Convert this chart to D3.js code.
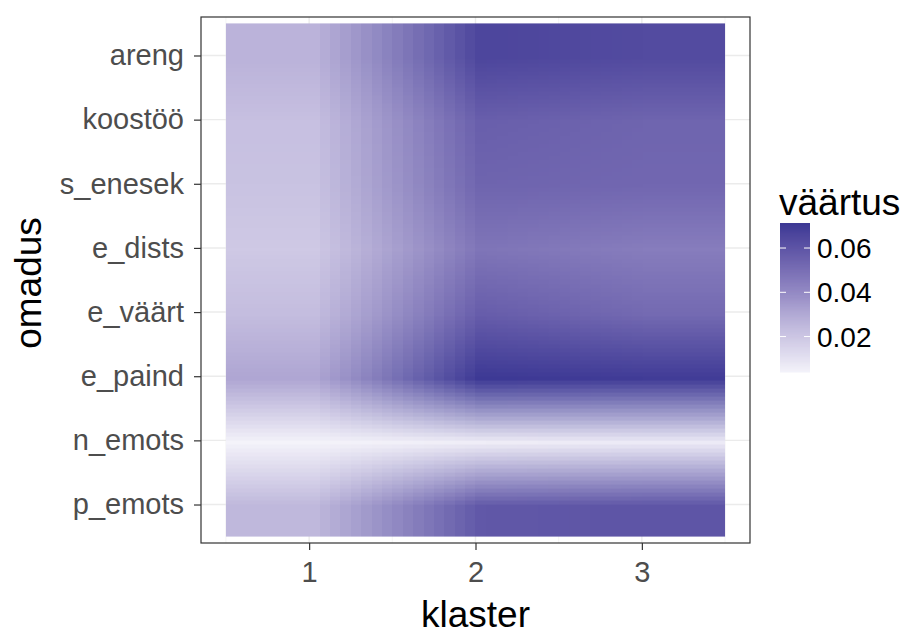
<!DOCTYPE html>
<html>
<head>
<meta charset="utf-8">
<script src="https://cdn.jsdelivr.net/npm/d3@7"></script>
<style>
  body { margin: 0; background: #fff; }
  text { font-family: "Liberation Sans", Arial, sans-serif; }
</style>
</head>
<body>
<div id="chart"></div>
<script>
// klastrid ja omadused (alt üles, nagu ggplot teljel)
const klaster = [1, 2, 3];
const omadus = ["p_emots", "n_emots", "e_paind", "e_väärt", "e_dists", "s_enesek", "koostöö", "areng"];

// väärtused iga klastri kohta, omaduste järjekorras
const vaartus1 = [0.024, 0.004, 0.030, 0.022, 0.018, 0.020, 0.021, 0.0255];
const vaartus2 = [0.059, 0.006, 0.0713, 0.057, 0.048, 0.054, 0.056, 0.066];
const vaartus3 = [0.060, 0.007, 0.070, 0.052, 0.045, 0.053, 0.054, 0.064];
const legendTicks = [0.02, 0.04, 0.06];

const vaartused = [vaartus1, vaartus2, vaartus3];
let cells = [];
klaster.forEach((k, ki) => {
  omadus.forEach((o, oi) => {
    cells.push({klaster: k, omadus: o, pos: oi + 1, value: vaartused[ki][oi]});
  });
});

let width = 902, height = 635;
let panel = {left: 201, right: 750, top: 17, bottom: 543};

let svg = d3.select("#chart")
  .append("svg")
    .attr("width", width)
    .attr("height", height);

let x = d3.scaleLinear()
  .domain([0.35, 3.65])
  .range([panel.left, panel.right]);

let y = d3.scaleLinear()
  .domain([0.4, omadus.length + 0.6])
  .range([panel.bottom, panel.top]);

let extent = d3.extent(cells, d => d.value);
let color = d3.scaleLinear()
  .domain(extent)
  .range(["#f4f3fa", "#3d3995"])
  .interpolate(d3.interpolateLab);

// panel background + grid
svg.append("rect")
  .attr("x", panel.left).attr("y", panel.top)
  .attr("width", panel.right - panel.left)
  .attr("height", panel.bottom - panel.top)
  .style("fill", "#ffffff");

let grid = svg.append("g");
[0.5, 1.5, 2.5, 3.5].forEach(v => {
  grid.append("line")
    .attr("x1", x(v)).attr("x2", x(v))
    .attr("y1", panel.top).attr("y2", panel.bottom)
    .style("stroke", "#f2f2f2").style("stroke-width", 0.8);
});
klaster.forEach(v => {
  grid.append("line")
    .attr("x1", x(v)).attr("x2", x(v))
    .attr("y1", panel.top).attr("y2", panel.bottom)
    .style("stroke", "#ebebeb").style("stroke-width", 1.4);
});
omadus.forEach((o, i) => {
  grid.append("line")
    .attr("x1", panel.left).attr("x2", panel.right)
    .attr("y1", y(i + 1)).attr("y2", y(i + 1))
    .style("stroke", "#ebebeb").style("stroke-width", 1.4);
});

// raster: one pixel per cell, then smoothed when scaled up (like interpolate = TRUE)
let small = document.createElement("canvas");
small.width = klaster.length;
small.height = omadus.length;
let sctx = small.getContext("2d");
cells.forEach(d => {
  sctx.fillStyle = color(d.value);
  sctx.fillRect(d.klaster - 1, omadus.length - d.pos, 1, 1);
});

let rx0 = x(0.5), rx1 = x(3.5);
let ry0 = y(omadus.length + 0.5), ry1 = y(0.5);
let big = document.createElement("canvas");
big.width = Math.round(rx1 - rx0);
big.height = Math.round(ry1 - ry0);
let bctx = big.getContext("2d");
bctx.imageSmoothingEnabled = true;
bctx.imageSmoothingQuality = "low";
bctx.drawImage(small, 0, 0, big.width, big.height);

svg.append("image")
  .attr("x", rx0).attr("y", ry0)
  .attr("width", rx1 - rx0).attr("height", ry1 - ry0)
  .attr("preserveAspectRatio", "none")
  .attr("href", big.toDataURL());

// panel border
svg.append("rect")
  .attr("x", panel.left).attr("y", panel.top)
  .attr("width", panel.right - panel.left)
  .attr("height", panel.bottom - panel.top)
  .style("fill", "none")
  .style("stroke", "#333333")
  .style("stroke-width", 1.2);

// X axis
let xAxis = svg.append("g")
  .attr("transform", "translate(0," + panel.bottom + ")")
  .call(d3.axisBottom(x).tickValues(klaster).tickSize(7).tickPadding(11).tickFormat(d3.format("d")));
xAxis.select(".domain").remove();
xAxis.selectAll(".tick line").style("stroke", "#333333").style("stroke-width", 1.2);
xAxis.selectAll(".tick text")
  .style("font-size", "29px")
  .style("fill", "#4d4d4d")
  .style("font-family", "'Liberation Sans', Arial, sans-serif");

// Y axis
let yAxis = svg.append("g")
  .attr("transform", "translate(" + panel.left + ",0)")
  .call(d3.axisLeft(y).tickValues(d3.range(1, omadus.length + 1)).tickSize(7).tickPadding(10)
    .tickFormat(d => omadus[d - 1]));
yAxis.select(".domain").remove();
yAxis.selectAll(".tick line").style("stroke", "#333333").style("stroke-width", 1.2);
yAxis.selectAll(".tick text")
  .style("font-size", "29px")
  .style("fill", "#4d4d4d")
  .style("font-family", "'Liberation Sans', Arial, sans-serif");

// axis titles
svg.append("text")
  .attr("x", (panel.left + panel.right) / 2)
  .attr("y", 627)
  .attr("text-anchor", "middle")
  .style("font-size", "37px")
  .style("fill", "#000")
  .text("klaster");

svg.append("text")
  .attr("transform", "translate(41,283) rotate(-90)")
  .attr("text-anchor", "middle")
  .style("font-size", "37px")
  .style("fill", "#000")
  .text("omadus");

// legend
let bar = {x: 780, w: 30, top: 223, bottom: 372};
let ly = d3.scaleLinear().domain(extent).range([bar.bottom, bar.top]);

svg.append("text")
  .attr("x", 779)
  .attr("y", 215)
  .style("font-size", "37px")
  .style("fill", "#000")
  .text("väärtus");

let nbin = 150;
let binH = (bar.bottom - bar.top) / nbin;
svg.append("g")
  .selectAll("rect")
  .data(d3.range(nbin))
  .join("rect")
    .attr("x", bar.x)
    .attr("y", i => bar.bottom - (i + 1) * binH)
    .attr("width", bar.w)
    .attr("height", binH + 0.5)
    .style("fill", i => color(extent[0] + (i + 0.5) / nbin * (extent[1] - extent[0])));

let lt = svg.append("g");
legendTicks.forEach(v => {
  lt.append("line")
    .attr("x1", bar.x).attr("x2", bar.x + 6)
    .attr("y1", ly(v)).attr("y2", ly(v))
    .style("stroke", "#ffffff").style("stroke-width", 1);
  lt.append("line")
    .attr("x1", bar.x + bar.w - 6).attr("x2", bar.x + bar.w)
    .attr("y1", ly(v)).attr("y2", ly(v))
    .style("stroke", "#ffffff").style("stroke-width", 1);
  lt.append("text")
    .attr("x", 817)
    .attr("y", ly(v))
    .attr("dy", "0.36em")
    .style("font-size", "28px")
    .style("fill", "#000")
    .text(d3.format(".2f")(v));
});
</script>
</body>
</html>
